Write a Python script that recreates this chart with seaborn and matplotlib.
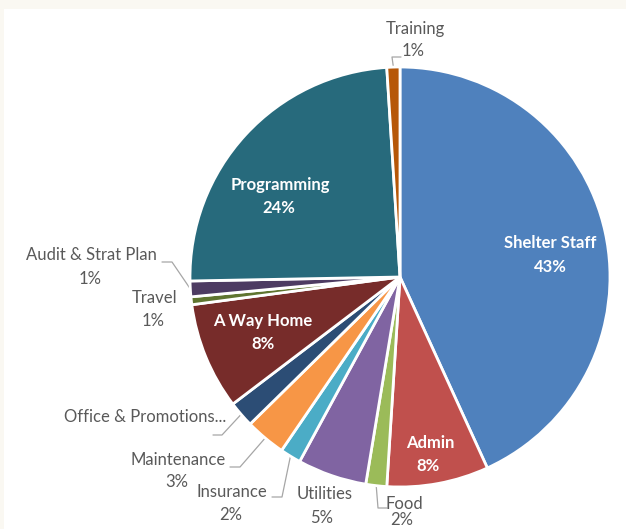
import numpy as np
import matplotlib
matplotlib.use('Agg')
import matplotlib.pyplot as plt
import seaborn as sns
from matplotlib.patches import Rectangle

# budget shares (percent), clockwise from 12 o'clock
categories = ['Shelter Staff', 'Admin', 'Food', 'Utilities', 'Insurance', 'Maintenance',
              'Office & Promotions', 'A Way Home', 'Travel', 'Audit & Strat Plan',
              'Programming', 'Training']
shares = [43.0, 7.8, 1.6, 5.3, 1.6, 3.1, 2.0, 8.2, 0.6, 1.2, 24.2, 1.0]
colors = ['#4F81BD', '#C0504D', '#9BBB59', '#8064A2', '#4BACC6', '#F79646',
          '#2C4D75', '#772C2A', '#5F7530', '#4D3B62', '#276A7C', '#B65708']

W, H = 626, 529
CX, CY, R = 400, 277, 210


def px(x, y):
    # pixel (top-left origin) -> data coords
    return x, H - y


# label layout in pixels: (name xy, pct xy, inside?)
layout = {
    'Shelter Staff': ((550, 243), (550, 267), True),
    'Admin': ((430, 443), (428, 466), True),
    'A Way Home': ((263, 321), (263, 344), True),
    'Programming': ((280, 185), (279, 208), True),
    'Training': ((415, 29), (413, 51), False),
    'Audit & Strat Plan': ((91, 255), (90, 279), False),
    'Travel': ((155, 298), (153, 321), False),
    'Office & Promotions': ((145, 417), None, False),
    'Maintenance': ((178, 460), (177, 482), False),
    'Insurance': ((232, 492), (231, 515), False),
    'Utilities': ((325, 494), (322, 518), False),
    'Food': ((404, 504), (402, 520), False),
}
# leader lines: elbow point then end point (pixels)
leaders = {
    'Training': [(392, 57), (401, 57)],
    'Audit & Strat Plan': [(172, 262), (162, 262)],
    'Office & Promotions': [(222, 435), (213, 435)],
    'Maintenance': [(240, 467), (230, 467)],
    'Insurance': [(282, 497), (272, 497)],
    'Food': [(378, 508), (387, 508)],
}

sns.set_theme(style='white')
plt.rcParams['font.family'] = ['Lato', 'DejaVu Sans']

fig = plt.figure(figsize=(W / 100, H / 100), dpi=100, facecolor='#faf8f2')
ax = fig.add_axes([0, 0, 1, 1])
ax.add_patch(Rectangle((4, 0), W, H - 9, facecolor='white', edgecolor='none', zorder=0))

wedges, _ = ax.pie(shares, colors=colors, startangle=90, counterclock=False,
                   center=px(CX, CY), radius=R,
                   wedgeprops=dict(edgecolor='white', linewidth=2))
for w in wedges:
    w.set_zorder(2)

total = sum(shares)
gray = '#595959'
for cat, val, w in zip(categories, shares, wedges):
    pct = f'{val / total * 100:.0f}%'
    name_xy, pct_xy, inside = layout[cat]
    if inside:
        kw = dict(color='white', fontweight='bold', fontsize=12)
    else:
        kw = dict(color=gray, fontsize=12)
    label = cat + '...' if cat == 'Office & Promotions' else cat
    ax.text(*px(*name_xy), label, ha='center', va='center', zorder=5, **kw)
    if pct_xy is not None:
        ax.text(*px(*pct_xy), pct, ha='center', va='center', zorder=5, **kw)
    if cat in leaders:
        mid = np.deg2rad((w.theta1 + w.theta2) / 2)
        ax0 = CX + R * np.cos(mid)
        ay0 = CY - R * np.sin(mid)
        pts = [(ax0, ay0)] + leaders[cat]
        xs = [p[0] for p in pts]
        ys = [H - p[1] for p in pts]
        ax.plot(xs, ys, color='#a6a6a6', lw=0.9, zorder=1)

ax.set_xlim(0, W)
ax.set_ylim(0, H)
ax.set_aspect('equal')
ax.axis('off')

fig.savefig('out.png', dpi=100, facecolor=fig.get_facecolor())
